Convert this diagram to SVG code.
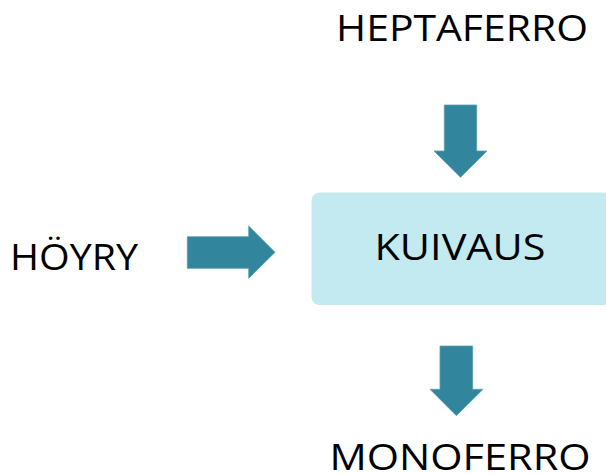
<svg xmlns="http://www.w3.org/2000/svg" width="606" height="475" viewBox="0 0 606 475">
<style>
.lbl{font-family:"Open Sans","Liberation Sans",Arial,sans-serif;font-size:36px;fill:#000}
.arr{fill:#31859C;stroke:#5A9FB2;stroke-width:0.8}
.box{fill:#C2EAF0}
</style>
<rect width="606" height="475" fill="#fff"/>
<g id="heptaferro"><text class="lbl" x="336" y="41" textLength="252" lengthAdjust="spacingAndGlyphs">HEPTAFERRO</text></g>
<g id="hoyry"><text class="lbl" x="10" y="269.5" textLength="128" lengthAdjust="spacingAndGlyphs">HÖYRY</text></g>
<g id="kuivaus">
<rect class="box" x="311.5" y="192.5" width="300" height="112.5" rx="8"/>
<text class="lbl" x="374.5" y="260" textLength="171" lengthAdjust="spacingAndGlyphs">KUIVAUS</text>
</g>
<g id="monoferro"><text class="lbl" x="329.5" y="470" textLength="261" lengthAdjust="spacingAndGlyphs">MONOFERRO</text></g>
<g id="connectors">
<polygon class="arr" points="444.3,105 476.7,105 476.7,151 487,151 460.5,177.3 434,151 444.3,151"/>
<polygon class="arr" points="187.3,236.7 248.7,236.7 248.7,226 275,252.3 248.7,278.3 248.7,268.3 187.3,268.3"/>
<polygon class="arr" points="440,346 472.7,346 472.7,389.3 483,389.3 456.4,415.7 430,389.3 440,389.3"/>
</g>
</svg>
